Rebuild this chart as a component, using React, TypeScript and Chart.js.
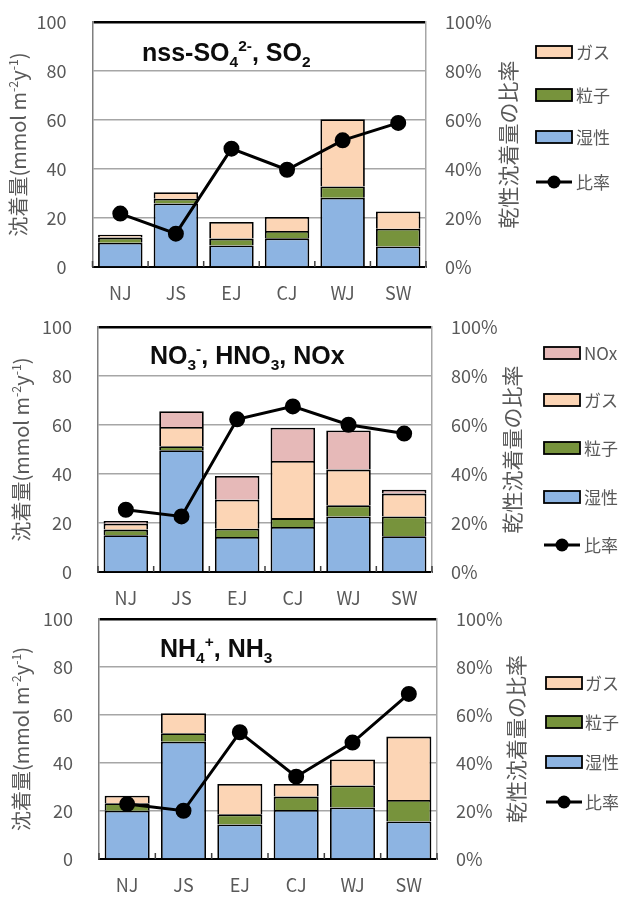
import React, { useEffect, useRef } from 'react';
import { Chart, registerables } from 'chart.js';

Chart.register(...registerables);

// ---------- data ----------
const categories = ['NJ', 'JS', 'EJ', 'CJ', 'WJ', 'SW'];

const so4Wet = [9.9, 25.9, 8.8, 11.7, 28.3, 8.4];
const so4Particle = [2.1, 2.0, 2.8, 3.0, 4.6, 7.2];
const so4Gas = [1.2, 2.6, 6.8, 5.7, 27.4, 7.1];
const so4Ratio = [21.8, 13.6, 48.3, 39.7, 51.7, 58.8];

const no3Wet = [15.0, 49.7, 14.3, 18.4, 22.7, 14.6];
const no3Particle = [2.3, 1.6, 3.4, 3.6, 4.5, 8.1];
const no3Gas = [2.4, 7.9, 11.8, 23.3, 14.6, 9.3];
const no3NOx = [1.1, 6.4, 9.7, 13.6, 16.0, 1.6];
const no3Ratio = [25.4, 22.7, 62.3, 67.6, 60.1, 56.5];

const nh4Wet = [20.1, 48.9, 14.4, 20.4, 21.5, 15.6];
const nh4Particle = [3.1, 3.5, 4.2, 5.6, 9.1, 9.0];
const nh4Gas = [3.2, 8.3, 12.7, 5.3, 10.9, 26.4];
const nh4Ratio = [22.9, 20.1, 52.8, 34.3, 48.5, 68.8];

const labelWet = '湿性';
const labelParticle = '粒子';
const labelGas = 'ガス';
const labelNOx = 'NOx';
const labelRatio = '比率';

type Run = { t: string; k?: 'sub' | 'sup' };

const yLeftTitle: Run[] = [
  { t: '沈着量(mmol m' }, { t: '-2', k: 'sup' }, { t: 'y' }, { t: '-1', k: 'sup' }, { t: ')' },
];
const yRightTitle: Run[] = [{ t: '乾性沈着量の比率' }];

const so4Title: Run[] = [{ t: 'nss-SO' }, { t: '4', k: 'sub' }, { t: '2-', k: 'sup' }, { t: ', SO' }, { t: '2', k: 'sub' }];
const no3Title: Run[] = [{ t: 'NO' }, { t: '3', k: 'sub' }, { t: '-', k: 'sup' }, { t: ', HNO' }, { t: '3', k: 'sub' }, { t: ', NOx' }];
const nh4Title: Run[] = [{ t: 'NH' }, { t: '4', k: 'sub' }, { t: '+', k: 'sup' }, { t: ', NH' }, { t: '3', k: 'sub' }];

// ---------- style ----------
const colWet = '#8DB4E2';
const colParticle = '#77933C';
const colGas = '#FCD5B5';
const colNOx = '#E6B9B8';
const textGrey = '#595959';
const FONT = '"Noto Sans CJK JP", "Noto Sans", sans-serif';
const TITLE_FONT = '"Liberation Sans", Arial, sans-serif';

type BarSpec = { label: string; data: number[]; color: string };
type PanelCfg = {
  top: number; height: number; padTop: number; leftW: number; rightW: number; xH: number;
  title: Run[]; titleX: number; titleY: number;
  bars: BarSpec[]; ratio: number[];
  legendBoxX: number; legendTextX: number; legendYs: number[];
  leftTitleX: number; rightTitleX: number;
};

const panels: PanelCfg[] = [
  {
    top: 0, height: 310, padTop: 22, leftW: 92.5, rightW: 196, xH: 43,
    title: so4Title, titleX: 142, titleY: 52,
    bars: [
      { label: labelWet, data: so4Wet, color: colWet },
      { label: labelParticle, data: so4Particle, color: colParticle },
      { label: labelGas, data: so4Gas, color: colGas },
    ],
    ratio: so4Ratio,
    legendBoxX: 536, legendTextX: 576, legendYs: [52, 95, 137, 182],
    leftTitleX: 19, rightTitleX: 508,
  },
  {
    top: 300, height: 312, padTop: 27, leftW: 98, rightW: 190, xH: 40,
    title: no3Title, titleX: 150, titleY: 55,
    bars: [
      { label: labelWet, data: no3Wet, color: colWet },
      { label: labelParticle, data: no3Particle, color: colParticle },
      { label: labelGas, data: no3Gas, color: colGas },
      { label: labelNOx, data: no3NOx, color: colNOx },
    ],
    ratio: no3Ratio,
    legendBoxX: 544, legendTextX: 584, legendYs: [53, 100, 148, 197, 245],
    leftTitleX: 22, rightTitleX: 512,
  },
  {
    top: 600, height: 299, padTop: 19, leftW: 99, rightW: 185, xH: 40,
    title: nh4Title, titleX: 160, titleY: 48,
    bars: [
      { label: labelWet, data: nh4Wet, color: colWet },
      { label: labelParticle, data: nh4Particle, color: colParticle },
      { label: labelGas, data: nh4Gas, color: colGas },
    ],
    ratio: nh4Ratio,
    legendBoxX: 546, legendTextX: 585, legendYs: [83, 122, 162, 202],
    leftTitleX: 22, rightTitleX: 516,
  },
];

// ---------- text helpers ----------
function runsWidth(ctx: CanvasRenderingContext2D, runs: Run[], size: number, weight: string, family: string) {
  let w = 0;
  for (const r of runs) {
    const s = r.k ? size * 0.62 : size;
    ctx.font = `${weight} ${s}px ${family}`;
    w += ctx.measureText(r.t).width;
  }
  return w;
}

function drawRuns(ctx: CanvasRenderingContext2D, runs: Run[], x: number, y: number, size: number, weight: string, family: string, color: string) {
  ctx.fillStyle = color;
  ctx.textAlign = 'left';
  ctx.textBaseline = 'alphabetic';
  let cx = x;
  for (const r of runs) {
    const s = r.k ? size * 0.62 : size;
    ctx.font = `${weight} ${s}px ${family}`;
    const dy = r.k === 'sub' ? size * 0.22 : r.k === 'sup' ? -size * 0.4 : 0;
    ctx.fillText(r.t, cx, y + dy);
    cx += ctx.measureText(r.t).width;
  }
}

function makePlugin(cfg: PanelCfg) {
  return {
    id: 'panelDeco',
    beforeDatasetsDraw(chart: any) {
      const ctx: CanvasRenderingContext2D = chart.ctx;
      const ca = chart.chartArea;
      const xs = chart.scales.x;
      ctx.save();
      ctx.strokeStyle = '#404040';
      ctx.lineWidth = 1.5;
      for (let i = 0; i <= categories.length; i++) {
        const x = xs.getPixelForValue(i - 0.5);
        ctx.beginPath();
        ctx.moveTo(x, ca.bottom);
        ctx.lineTo(x, ca.bottom - 6);
        ctx.stroke();
      }
      ctx.restore();
    },
    afterDraw(chart: any) {
      const ctx: CanvasRenderingContext2D = chart.ctx;
      const ca = chart.chartArea;
      const cy = (ca.top + ca.bottom) / 2;
      ctx.save();
      // main title inside plot
      drawRuns(ctx, cfg.title, cfg.titleX, cfg.titleY + 25 * 0.36, 25, 'bold', TITLE_FONT, '#0d0d0d');

      // left axis title
      const ls = 20;
      const lw = runsWidth(ctx, yLeftTitle, ls, 'normal', FONT);
      ctx.save();
      ctx.translate(cfg.leftTitleX, cy);
      ctx.rotate(-Math.PI / 2);
      drawRuns(ctx, yLeftTitle, -lw / 2, ls * 0.36, ls, 'normal', FONT, textGrey);
      ctx.restore();

      // right axis title
      const rs = 21;
      const rw = runsWidth(ctx, yRightTitle, rs, 'normal', FONT);
      ctx.save();
      ctx.translate(cfg.rightTitleX, cy);
      ctx.rotate(-Math.PI / 2);
      drawRuns(ctx, yRightTitle, -rw / 2, rs * 0.36, rs, 'normal', FONT, textGrey);
      ctx.restore();

      // legend
      const entries = [...cfg.bars].reverse();
      const bw = 36, bh = 12;
      ctx.font = `17px ${FONT}`;
      ctx.textBaseline = 'middle';
      ctx.textAlign = 'left';
      entries.forEach((b, i) => {
        const y = cfg.legendYs[i];
        ctx.fillStyle = b.color;
        ctx.fillRect(cfg.legendBoxX, y - bh / 2, bw, bh);
        ctx.strokeStyle = '#000';
        ctx.lineWidth = 1.8;
        ctx.strokeRect(cfg.legendBoxX, y - bh / 2, bw, bh);
        ctx.fillStyle = textGrey;
        ctx.fillText(b.label, cfg.legendTextX, y + 1);
      });
      const ry = cfg.legendYs[entries.length];
      ctx.strokeStyle = '#000';
      ctx.lineWidth = 3;
      ctx.beginPath();
      ctx.moveTo(cfg.legendBoxX, ry);
      ctx.lineTo(cfg.legendBoxX + bw, ry);
      ctx.stroke();
      ctx.fillStyle = '#000';
      ctx.beginPath();
      ctx.arc(cfg.legendBoxX + bw / 2, ry, 6.5, 0, Math.PI * 2);
      ctx.fill();
      ctx.fillStyle = textGrey;
      ctx.fillText(labelRatio, cfg.legendTextX, ry + 1);
      ctx.restore();
    },
  };
}

function Panel({ cfg }: { cfg: PanelCfg }) {
  const ref = useRef<HTMLCanvasElement>(null);
  useEffect(() => {
    const datasets: any[] = cfg.bars.map((b) => ({
      type: 'bar',
      label: b.label,
      data: b.data,
      backgroundColor: b.color,
      borderColor: '#000',
      borderWidth: 1.8,
      barPercentage: 0.8,
      categoryPercentage: 1.0,
      stack: 's',
      yAxisID: 'y',
      order: 1,
    }));
    datasets.push({
      type: 'line',
      label: labelRatio,
      data: cfg.ratio,
      borderColor: '#000',
      borderWidth: 3,
      pointRadius: 6.5,
      pointBackgroundColor: '#000',
      pointBorderColor: '#000',
      yAxisID: 'y2',
      order: 0,
      tension: 0,
    });
    const chart = new Chart(ref.current!, {
      type: 'bar',
      data: { labels: categories, datasets },
      options: {
        responsive: false,
        animation: false,
        devicePixelRatio: 1,
        layout: { padding: { top: cfg.padTop, left: 0, right: 0, bottom: 0 } },
        plugins: { legend: { display: false }, tooltip: { enabled: false } },
        scales: {
          x: {
            stacked: true,
            grid: { display: false, drawTicks: false },
            border: { display: true, color: '#000', width: 2 },
            ticks: { color: textGrey, font: { family: FONT, size: 18 }, padding: 15 },
            afterFit: (s: any) => { s.height = cfg.xH; },
          },
          y: {
            position: 'left',
            stacked: true,
            min: 0,
            max: 100,
            ticks: { stepSize: 20, color: textGrey, font: { family: FONT, size: 18 }, padding: 0 },
            grid: {
              drawTicks: true,
              tickLength: 26,
              tickColor: 'rgba(0,0,0,0)',
              color: (c: any) => (c.tick && c.tick.value === 100 ? '#000' : '#A6A6A6'),
              lineWidth: (c: any) => (c.tick && c.tick.value === 100 ? 2.5 : 1.5),
            },
            border: { display: true, color: '#7F7F7F', width: 1.5 },
            afterFit: (s: any) => { s.width = cfg.leftW; },
          },
          y2: {
            position: 'right',
            min: 0,
            max: 100,
            ticks: { stepSize: 20, color: textGrey, font: { family: FONT, size: 18 }, padding: 0, callback: (v: any) => v + '%' },
            grid: { display: true, drawOnChartArea: false, drawTicks: true, tickLength: 19, tickColor: 'rgba(0,0,0,0)', color: 'rgba(0,0,0,0)' },
            border: { display: true, color: '#A6A6A6', width: 1.5 },
            afterFit: (s: any) => { s.width = cfg.rightW; },
          },
        },
      } as any,
      plugins: [makePlugin(cfg)],
    });
    return () => chart.destroy();
  }, [cfg]);
  return (
    <canvas
      ref={ref}
      width={622}
      height={cfg.height}
      style={{ position: 'absolute', left: 0, top: cfg.top, width: 622, height: cfg.height }}
    />
  );
}

export default function App() {
  return (
    <div style={{ position: 'absolute', left: 0, top: 0, width: 622, height: 899, background: '#fff' }}>
      {panels.map((p, i) => (
        <Panel key={i} cfg={p} />
      ))}
    </div>
  );
}
